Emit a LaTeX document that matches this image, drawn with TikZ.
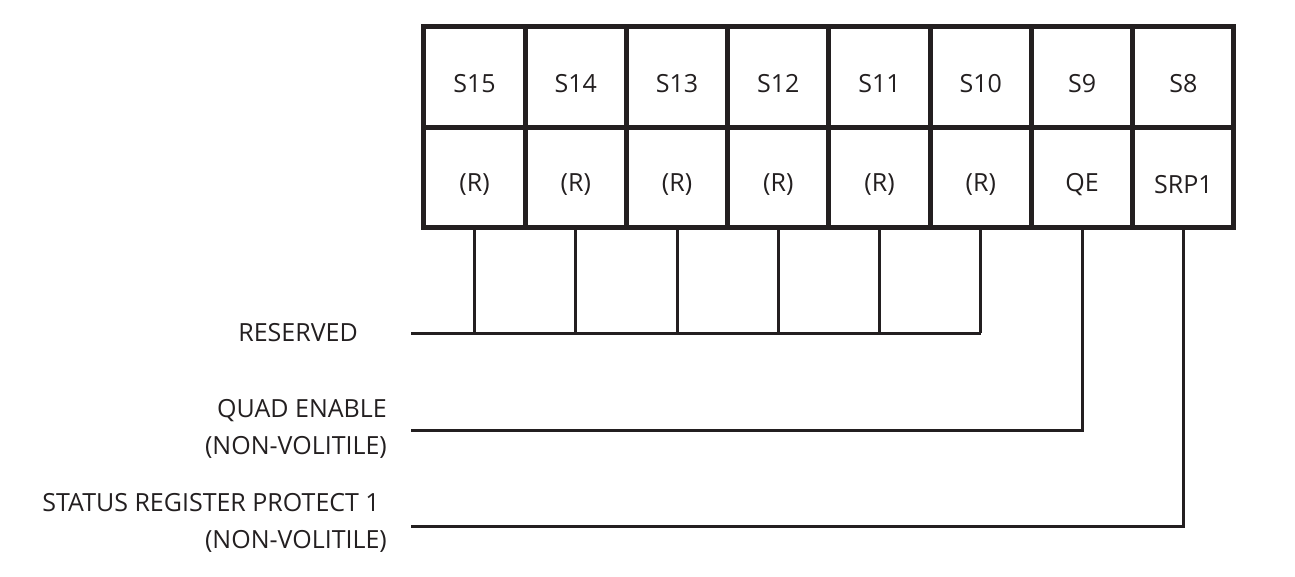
\documentclass[tikz,border=0pt]{standalone}
\usepackage{fontspec}
\setmainfont{Open Sans}
\usetikzlibrary{calc}
\definecolor{ink}{HTML}{231F20}
\begin{document}
\begin{tikzpicture}[x=1pt,y=-1pt,
  cellbox/.style={draw=ink, line width=5pt, minimum width=101.25pt, minimum height=100.5pt, inner sep=0pt, outer sep=0pt},
  celltext/.style={font=\fontsize{25}{30}\selectfont, text=ink, inner sep=0pt},
  wire/.style={draw=ink, line width=3pt},
  lbl/.style={font=\fontsize{25}{37}\selectfont, text=ink, align=right, anchor=east, inner sep=0pt}]
\useasboundingbox (0,0) rectangle (1295,577);
\foreach \i/\tp/\bt in {0/S15/{(R)},1/S14/{(R)},2/S13/{(R)},3/S12/{(R)},4/S11/{(R)},5/S10/{(R)},6/S9/QE,7/S8/SRP1}{
  \node[cellbox] (t\i) at ({474.6+101.25*\i},77.25) {};
  \node[cellbox] (b\i) at ({474.6+101.25*\i},177.75) {};
  \node[celltext] (tt\i) at ($(t\i)+(0,6)$) {\tp};
  \node[celltext] (bt\i) at ($(b\i)+(0,7)$) {\bt};
}
\coordinate (resL) at (411,333);
\coordinate (qeL) at (411,430);
\coordinate (srpL) at (411,526);
\draw[wire] (resL) -- (b5.south |- resL);
\foreach \i in {0,...,5}{
  \draw[wire] (b\i.south) -- (b\i.south |- resL);
}
\draw[wire] (b6.south) |- (qeL);
\draw[wire] (b7.south) |- (srpL);
\node[lbl] (resT) at (358,333) {RESERVED};
\node[lbl] (qeT) at (387,428.5) {QUAD ENABLE\\(NON-VOLITILE)};
\node[lbl] (srpT) at (387,522.5) {STATUS REGISTER PROTECT 1\hspace*{7pt}\\(NON-VOLITILE)};
\end{tikzpicture}
\end{document}
